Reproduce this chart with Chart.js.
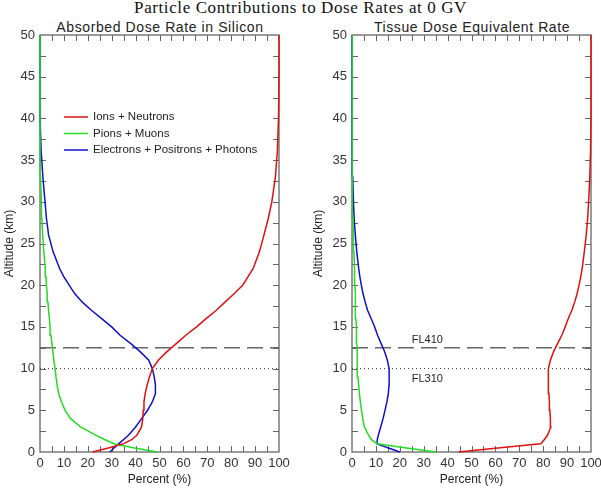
<!DOCTYPE html>
<html>
<head>
<meta charset="utf-8">
<script src="https://cdn.jsdelivr.net/npm/chart.js@4/dist/chart.umd.min.js"></script>
<style>
body{margin:0;background:#fff;width:601px;height:489px;position:relative;overflow:hidden;font-family:"Liberation Sans",Arial,sans-serif;color:#222;}
canvas{position:absolute;top:0;}
#title{position:absolute;top:-2px;left:0;width:601px;text-align:center;font:17px "Liberation Serif",serif;letter-spacing:0.6px;color:#111;}
.sub{position:absolute;top:19px;font-size:14px;letter-spacing:0.6px;color:#222;text-align:center;width:240px;}
</style>
</head>
<body>
<div id="title">Particle Contributions to Dose Rates at 0 GV</div>
<div class="sub" style="left:40px">Absorbed Dose Rate in Silicon</div>
<div class="sub" style="left:352px">Tissue Dose Equivalent Rate</div>
<canvas id="silicon" width="300" height="489" style="left:0"></canvas>
<canvas id="tissue" width="320" height="489" style="left:300px"></canvas>
<script>
// altitude (km) shared by every curve
const altitude=[0,0.5,1,1.5,2,3,4,5,6,7,8,9,10,11,12,13,14,15,16,17,18,19,20,21,22,24,26,28,30,33,36,40,45,50];
const seriesNames=["Ions + Neutrons","Pions + Muons","Electrons + Positrons + Photons"];
const seriesColors=["#e01010","#22dd22","#1010c8"];

// absorbed dose rate in silicon (%)
const siIons=[22,29,35,38.5,40.5,42.5,43,43.2,43.5,44,44.8,45.8,47,49.5,53,57,61,65.5,69.5,73.8,77.5,81.3,84.8,87,89.2,91.8,93.7,95.5,97,98.5,99.3,99.8,100,100];
const siPions=[49,39,31,27,23.5,17,12.8,10.5,9,7.8,7.2,6.7,6.3,5.8,5.4,5,4.6,4.2,3.9,3.6,3.3,3,2.7,2.5,2.2,1.6,1.1,0.8,0.6,0.2,0,0,0,0];
const siElectrons=[29.3,31,33,35,37,40,42.5,45,47,48.3,48.3,47.8,47,45.5,42,38,33.5,30,25.8,21.5,17.6,14.5,12.2,10,8.2,5.5,3.6,2.7,2.1,1.2,0.5,0,0,0];

// tissue dose equivalent rate (%)
const tiIons=[44.6,62,79,80.5,81.8,83.2,83,82.8,82.6,82.4,82.2,82.1,82.2,83,84.3,86,87.8,89.2,90.5,92,93.2,94.2,95,95.7,96.3,97.2,98,98.6,99,99.5,99.8,100,100,100];
const tiPions=[35.2,22,10.5,8,7,5.2,4.5,4,3.5,3.1,2.8,2.5,2.3,2.2,2.1,2,1.9,1.8,1.6,1.5,1.4,1.3,1.2,1.1,1,0.8,0.6,0.4,0.3,0.1,0,0,0,0];
const tiElectrons=[20,15,10.4,10.6,11,12,13,13.8,14.6,15.2,15.5,15.6,15.5,14.8,13.7,12.2,10.7,9.5,8,6.5,5.5,4.6,3.9,3.3,2.8,2,1.4,0.9,0.6,0.3,0.1,0,0,0];

// flight levels (km)
const flightLevels=[12.5,10];
const flightNames=["FL410","FL310"];

function toPoints(values){
    return values.map(function(v,i){return {x:v,y:altitude[i]};});
}

// box + inward ticks, drawn under the curves
const frame={
    id:'frame',
    beforeDatasetsDraw(chart){
        const ctx=chart.ctx, a=chart.chartArea, xs=chart.scales.x, ys=chart.scales.y;
        ctx.save();
        ctx.strokeStyle='#666';
        ctx.lineWidth=1.3;
        ctx.strokeRect(a.left,a.top,a.right-a.left,a.bottom-a.top);
        ctx.lineWidth=1;
        ctx.beginPath();
        for(let v=5;v<100;v+=5){
            const px=Math.round(xs.getPixelForValue(v))+0.5;
            ctx.moveTo(px,a.bottom);ctx.lineTo(px,a.bottom-6);
            ctx.moveTo(px,a.top);ctx.lineTo(px,a.top+6);
        }
        for(let v=2.5;v<50;v+=2.5){
            const py=Math.round(ys.getPixelForValue(v))+0.5;
            ctx.moveTo(a.left,py);ctx.lineTo(a.left+6,py);
            ctx.moveTo(a.right,py);ctx.lineTo(a.right-6,py);
        }
        ctx.stroke();
        ctx.restore();
    }
};

const legendBox={
    id:'legendBox',
    afterDraw(chart,args,opts){
        if(!opts.show) return;
        const ctx=chart.ctx;
        ctx.save();
        ctx.font='11.5px "Liberation Sans", Arial, sans-serif';
        ctx.textBaseline='middle';
        ctx.lineWidth=1.5;
        seriesNames.forEach(function(name,i){
            const y=117+16.5*i;
            ctx.strokeStyle=seriesColors[i];
            ctx.beginPath();ctx.moveTo(64,y);ctx.lineTo(88,y);ctx.stroke();
            ctx.fillStyle='#222';
            ctx.fillText(name,93,y);
        });
        ctx.restore();
    }
};

const flightText={
    id:'flightText',
    afterDraw(chart,args,opts){
        if(!opts.show) return;
        const ctx=chart.ctx, xs=chart.scales.x, ys=chart.scales.y;
        ctx.save();
        ctx.font='11px "Liberation Sans", Arial, sans-serif';
        ctx.fillStyle='#222';
        ctx.textBaseline='middle';
        flightNames.forEach(function(name,i){
            const y=ys.getPixelForValue(flightLevels[i])+(i==0?-8:10);
            ctx.fillText(name,xs.getPixelForValue(25),y);
        });
        ctx.restore();
    }
};

function makeChart(id,ions,pions,electrons,padLeft,yWidth,padRight,showLegend,showFlight){
    const datasets=[
        {data:toPoints(ions),borderColor:seriesColors[0]},
        {data:toPoints(pions),borderColor:seriesColors[1]},
        {data:toPoints(electrons),borderColor:seriesColors[2]},
        {data:[{x:0,y:flightLevels[0]},{x:100,y:flightLevels[0]}],borderColor:'#666',borderDash:[16,7],borderWidth:1.5},
        {data:[{x:0,y:flightLevels[1]},{x:100,y:flightLevels[1]}],borderColor:'#333',borderDash:[1,3],borderWidth:1}
    ];
    datasets.forEach(function(d,i){
        d.showLine=true;d.pointRadius=0;d.tension=0;d.clip=4;d.fill=false;
        if(i<3) d.borderWidth=1.5;
    });
    const tickFont={size:13,family:'"Liberation Sans", Arial, sans-serif'};
    const titleFont={size:12,family:'"Liberation Sans", Arial, sans-serif'};
    new Chart(id,{
        type:'scatter',
        data:{datasets:datasets},
        options:{
            responsive:false,
            animation:false,
            layout:{padding:{top:35,left:padLeft,right:padRight,bottom:0}},
            plugins:{legend:{display:false},tooltip:{enabled:false},
                legendBox:{show:showLegend},flightText:{show:showFlight}},
            scales:{
                x:{type:'linear',min:0,max:100,
                    grid:{display:false,drawTicks:false},border:{display:false},
                    ticks:{stepSize:10,autoSkip:false,maxRotation:0,padding:4,color:'#333',font:tickFont},
                    title:{display:true,text:'Percent (%)',color:'#222',font:titleFont,padding:{top:2,bottom:2}},
                    afterFit(s){s.height=37;}
                },
                y:{type:'linear',min:0,max:50,
                    grid:{display:false,drawTicks:false},border:{display:false},
                    ticks:{stepSize:5,autoSkip:false,padding:5,color:'#333',font:tickFont},
                    title:{display:true,text:'Altitude (km)',color:'#222',font:titleFont,padding:{top:2,bottom:2}},
                    afterFit(s){s.width=yWidth;}
                }
            }
        },
        plugins:[frame,legendBox,flightText]
    });
}

makeChart('silicon',siIons,siPions,siElectrons,0,40,21,true,false);
makeChart('tissue',tiIons,tiPions,tiElectrons,9,43,29,false,true);
</script>
</body>
</html>
